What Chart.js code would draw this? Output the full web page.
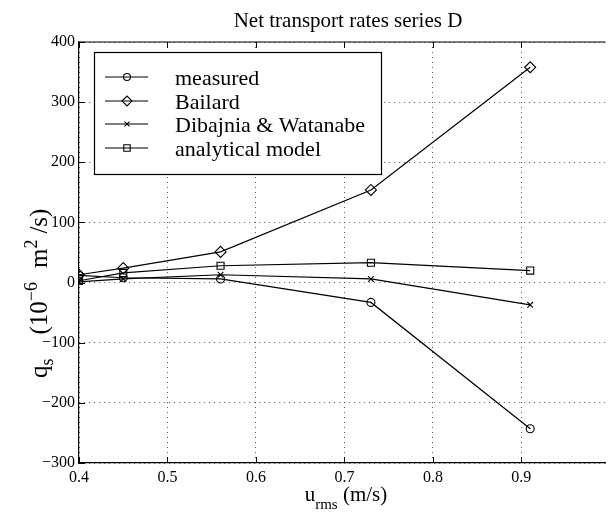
<!DOCTYPE html>
<html lang="en">
<head>
  <meta charset="UTF-8">
  <title>Net transport rates series D</title>
  <script src="https://cdn.jsdelivr.net/npm/chart.js"></script>
  <style>
    body {
      margin: 0;
      padding: 0;
      background: #fff;
      overflow: hidden;
    }
    .chart-container {
      width: 612px;
      height: 515px;
    }
  </style>
</head>
<body>
  <div class="chart-container">
    <canvas id="transportChart" width="612" height="515"></canvas>
  </div>

  <script>
    // data
    const uRms = [0.4, 0.45, 0.56, 0.73, 0.91];
    const measured = [12, 8, 6, -33, -243];
    const bailard = [13, 24, 51, 154, 358];
    const dibajnia = [1, 6, 13, 6, -37];
    const analytical = [3, 16, 28, 33, 20];

    const seriesNames = ['measured', 'Bailard', 'Dibajnia & Watanabe', 'analytical model'];
    const xTickValues = [0.4, 0.5, 0.6, 0.7, 0.8, 0.9];
    const yTickValues = [-300, -200, -100, 0, 100, 200, 300, 400];

    const serif = "'Liberation Serif', 'Times New Roman', serif";
    const markerStyles = ['circle', 'rectRot', 'crossRot', 'rect'];
    const markerSizes = [4, 5.5, 4, 5];

    function toPoints(values) {
      return values.map((v, i) => ({ x: uRms[i], y: v }));
    }

    const allSeries = [measured, bailard, dibajnia, analytical];
    const datasets = allSeries.map((vals, i) => ({
      label: seriesNames[i],
      data: toPoints(vals),
      borderColor: '#000',
      borderWidth: 1.2,
      pointStyle: markerStyles[i],
      pointRadius: markerSizes[i],
      pointBorderColor: '#000',
      pointBorderWidth: 1.1,
      pointBackgroundColor: 'rgba(0,0,0,0)',
      tension: 0
    }));

    // text pieces with sub/superscripts; {gap} adds empty space
    function drawRich(ctx, parts, startX) {
      let total = 0;
      parts.forEach(p => {
        if (p.gap) { p.w = p.gap; }
        else {
          ctx.font = p.size + 'px ' + serif;
          p.w = ctx.measureText(p.t).width;
        }
        total += p.w;
      });
      let x = startX === undefined ? -total / 2 : startX;
      ctx.textAlign = 'left';
      ctx.textBaseline = 'alphabetic';
      parts.forEach(p => {
        if (!p.gap) {
          ctx.font = p.size + 'px ' + serif;
          ctx.fillText(p.t, x, p.dy || 0);
        }
        x += p.w;
      });
    }

    const decorations = {
      id: 'decorations',
      afterDraw(chart) {
        const { ctx, chartArea: a, scales } = chart;
        const xs = scales.x, ys = scales.y;
        ctx.save();
        ctx.strokeStyle = '#000';
        ctx.fillStyle = '#000';
        ctx.lineWidth = 1.2;

        // top frame line
        ctx.beginPath();
        ctx.moveTo(a.left, a.top);
        ctx.lineTo(a.right, a.top);
        ctx.stroke();

        // inward tick marks
        ctx.lineWidth = 1;
        xTickValues.forEach(v => {
          const px = Math.round(xs.getPixelForValue(v)) + 0.5;
          ctx.beginPath();
          ctx.moveTo(px, a.bottom);
          ctx.lineTo(px, a.bottom - 6);
          ctx.moveTo(px, a.top);
          ctx.lineTo(px, a.top + 6);
          ctx.stroke();
        });
        yTickValues.forEach(v => {
          const py = Math.round(ys.getPixelForValue(v)) + 0.5;
          ctx.beginPath();
          ctx.moveTo(a.left, py);
          ctx.lineTo(a.left + 6, py);
          ctx.stroke();
        });

        // legend box
        const box = { l: 94, t: 52, r: 381, b: 174 };
        ctx.fillStyle = '#fff';
        ctx.fillRect(box.l, box.t, box.r - box.l, box.b - box.t);
        ctx.strokeStyle = '#000';
        ctx.lineWidth = 1.2;
        ctx.strokeRect(box.l + 0.5, box.t + 0.5, box.r - box.l, box.b - box.t);

        const rowY = [77, 101, 124, 148];
        seriesNames.forEach((name, i) => {
          const y = rowY[i];
          ctx.strokeStyle = '#000';
          ctx.lineWidth = 1.2;
          ctx.beginPath();
          ctx.moveTo(105, y);
          ctx.lineTo(148, y);
          ctx.stroke();
          ctx.fillStyle = 'rgba(0,0,0,0)';
          ctx.lineWidth = 1.1;
          Chart.helpers.drawPoint(ctx, {
            pointStyle: markerStyles[i],
            radius: markerSizes[i] - 0.5,
            rotation: 0,
            borderWidth: 1.1
          }, 127, y);
          ctx.fillStyle = '#000';
          ctx.font = '22px ' + serif;
          ctx.textAlign = 'left';
          ctx.textBaseline = 'alphabetic';
          ctx.fillText(name, 175, y + 8);
        });

        // title
        ctx.fillStyle = '#000';
        ctx.font = '21px ' + serif;
        ctx.textAlign = 'center';
        ctx.textBaseline = 'alphabetic';
        ctx.fillText('Net transport rates series D', 348, 27);

        // x axis label
        ctx.save();
        ctx.translate(346, 501);
        drawRich(ctx, [
          { t: 'u', size: 21 },
          { t: 'rms', size: 15, dy: 8 },
          { t: ' (m/s)', size: 21 }
        ]);
        ctx.restore();

        // y axis label, read bottom to top
        ctx.save();
        ctx.translate(47, 0);
        ctx.rotate(-Math.PI / 2);
        drawRich(ctx, [
          { t: 'q', size: 25 },
          { t: 's', size: 18, dy: 6 },
          { gap: 24 },
          { t: '(10', size: 25 },
          { t: '\u22126', size: 18, dy: -10 },
          { gap: 14 },
          { t: 'm', size: 25 },
          { t: '2', size: 18, dy: -10 },
          { gap: 6 },
          { t: '/s)', size: 25 }
        ], -378);
        ctx.restore();

        ctx.restore();
      }
    };

    const ctx = document.getElementById('transportChart').getContext('2d');

    new Chart(ctx, {
      type: 'line',
      data: { datasets: datasets },
      options: {
        responsive: false,
        animation: false,
        devicePixelRatio: 1,
        layout: { padding: { top: 42, left: 0, right: 0, bottom: 0 } },
        plugins: {
          legend: { display: false },
          title: { display: false },
          tooltip: { enabled: false }
        },
        scales: {
          x: {
            type: 'linear',
            min: 0.4,
            max: 0.995,
            afterBuildTicks(scale) {
              scale.ticks = xTickValues.map(v => ({ value: v }));
            },
            afterFit(scale) {
              scale.height = 52;
            },
            grid: {
              color: '#555',
              lineWidth: 1,
              drawTicks: false
            },
            border: {
              display: true,
              color: '#000',
              width: 1.2,
              dash: [1, 4]
            },
            ticks: {
              padding: 5,
              color: '#000',
              font: { family: serif, size: 16 },
              maxRotation: 0,
              callback: v => v.toFixed(1)
            }
          },
          y: {
            type: 'linear',
            min: -300,
            max: 400,
            afterBuildTicks(scale) {
              scale.ticks = yTickValues.map(v => ({ value: v }));
            },
            afterFit(scale) {
              scale.width = 79;
            },
            grid: {
              color: '#555',
              lineWidth: 1,
              drawTicks: false
            },
            border: {
              display: true,
              color: '#000',
              width: 1.2,
              dash: [1, 4]
            },
            ticks: {
              padding: 4,
              color: '#000',
              font: { family: serif, size: 16 },
              callback: v => (v < 0 ? '\u2212' + Math.abs(v) : String(v))
            }
          }
        }
      },
      plugins: [decorations]
    });
  </script>
</body>
</html>
